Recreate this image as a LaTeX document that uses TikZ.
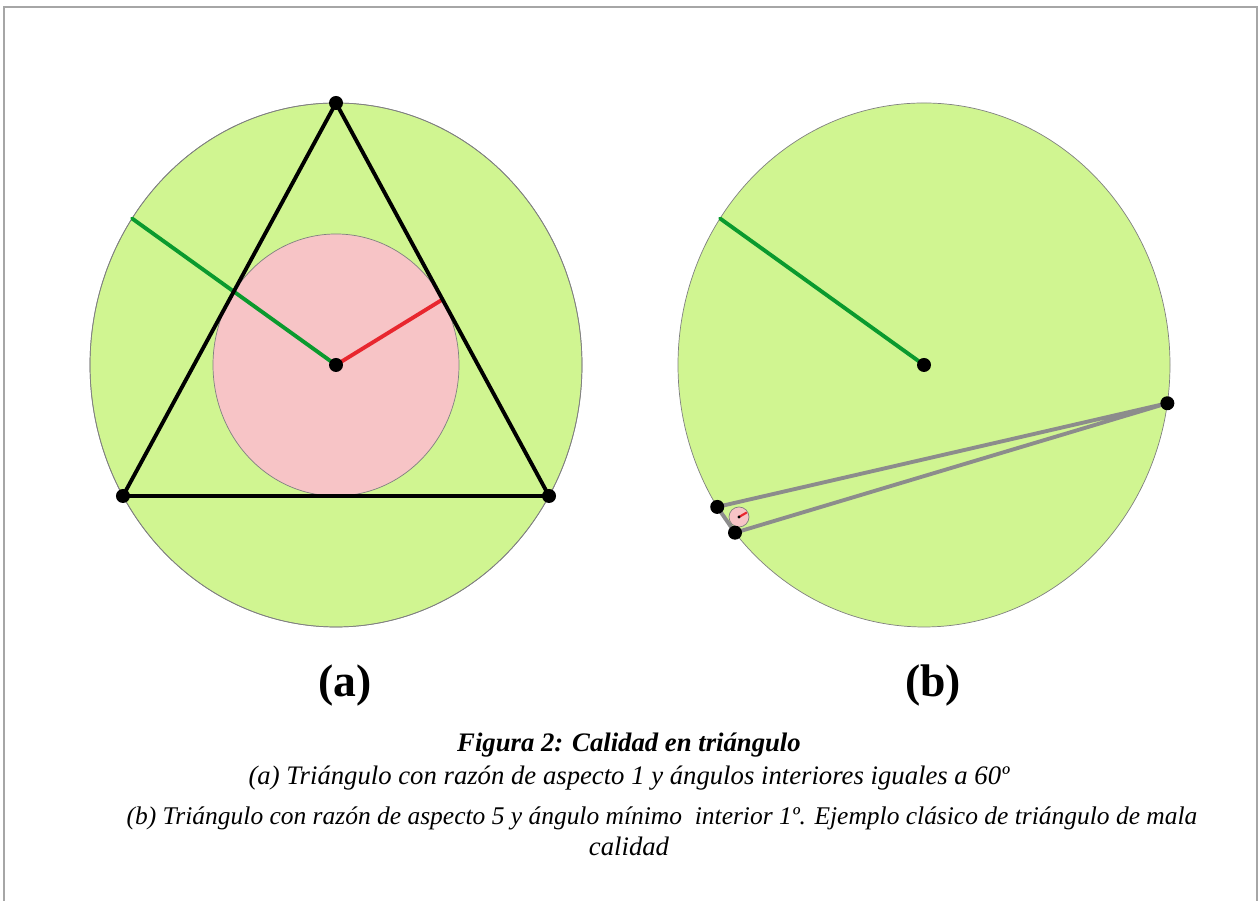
\documentclass[tikz,border=0pt]{standalone}
\usepackage{fontspec}
\setmainfont{Liberation Serif}
\usetikzlibrary{calc}

\definecolor{discgreen}{HTML}{D0F591}
\definecolor{inpink}{HTML}{F7C4C6}
\definecolor{radgreen}{HTML}{0A9A2E}
\definecolor{radred}{HTML}{E8262E}
\definecolor{edgegray}{HTML}{8C8C8C}

\begin{document}
\begin{tikzpicture}[x=0.02cm, y=0.02cm,
  vertex/.style={circle, fill=black, inner sep=0pt, minimum size=0.28cm},
  disc/.style={fill=discgreen, draw=gray, thin},
  incirc/.style={fill=inpink, draw=gray, thin},
  thickline/.style={line width=2.2pt, line cap=round},
  sublabel/.style={font=\fontsize{26}{30}\selectfont\bfseries},
  capline/.style={anchor=base, font=\fontsize{15.2}{18}\selectfont\itshape}]

%% ============================================================
%% Page frame (1 unit = 1 px of the 1259x901 figure, y upwards)
%% ============================================================
\useasboundingbox (0,0) rectangle (1259,901);
\draw[gray!70, line width=1.2pt] (4,-20) -- (4,894) -- (1257,894) -- (1257,-20);

\def\Rx{246}   % circumcircle x radius
\def\Ry{262}   % circumcircle y radius

%% ---- (a) equilateral triangle ----
\coordinate (Ca) at (336,536);  % circumcentre = incentre

\fill[disc] (Ca) ellipse [x radius=\Rx, y radius=\Ry];
\fill[incirc] (Ca) ellipse [x radius=123, y radius=131];
\draw[disc, fill=none] (Ca) ellipse [x radius=\Rx, y radius=\Ry];

\coordinate (Ta) at ($(Ca)+(90:{\Rx} and {\Ry})$);
\coordinate (Tb) at ($(Ca)+(210:{\Rx} and {\Ry})$);
\coordinate (Tc) at ($(Ca)+(330:{\Rx} and {\Ry})$);

% radii
\draw[thickline, radgreen] (Ca) -- ($(Ca)+(146:{\Rx} and {\Ry})$);
\draw[thickline, radred] (Ca) -- ($(Ca)+(30:123 and 131)$);

\draw[thickline, line join=round] (Ta) -- (Tb) -- (Tc) -- cycle;

\node[vertex] (va) at (Ta) {};
\node[vertex] (vb) at (Tb) {};
\node[vertex] (vc) at (Tc) {};
\node[vertex] (oa) at (Ca) {};

%% ---- (b) sliver triangle ----
\coordinate (Cb) at (924,536);  % circumcentre

\fill[disc] (Cb) ellipse [x radius=\Rx, y radius=\Ry];

\coordinate (Sa) at ($(Cb)+(-8.4:{\Rx} and {\Ry})$);
\coordinate (Sb) at ($(Cb)+(212.8:{\Rx} and {\Ry})$);
\coordinate (Sc) at ($(Cb)+(219.8:{\Rx} and {\Ry})$);

\draw[thickline, radgreen] (Cb) -- ($(Cb)+(146:{\Rx} and {\Ry})$);
\draw[thickline, edgegray, line join=round] (Sa) -- (Sb) -- (Sc) -- cycle;

% tiny incircle
\coordinate (Ib) at (739,384);
\draw[incirc] (Ib) circle [radius=10];
\draw[radred, line width=1.2pt] (Ib) -- ++(30:9);
\fill (Ib) circle [radius=1.6];

\node[vertex] (sa) at (Sa) {};
\node[vertex] (sb) at (Sb) {};
\node[vertex] (sc) at (Sc) {};
\node[vertex] (ob) at (Cb) {};

%% ---- labels ----
\node[sublabel] (laba) at (345,215) {(a)};
\node[sublabel] (labb) at (933,215) {(b)};

%% ---- caption ----
\node[capline, font=\fontsize{15.2}{18}\selectfont\bfseries\itshape] (cap0) at (629,149)
  {Figura 2: Calidad en triángulo};
\node[capline] (cap1) at (629,116)
  {(a) Triángulo con razón de aspecto 1 y ángulos interiores iguales a 60º};
\node[capline, font=\fontsize{14.5}{18}\selectfont\itshape] (cap2) at (662,76)
  {(b) Triángulo con razón de aspecto 5 y ángulo mínimo\ \ interior 1º. Ejemplo clásico de triángulo de mala};
\node[capline] (cap3) at (629,45) {calidad};

\end{tikzpicture}
\end{document}
